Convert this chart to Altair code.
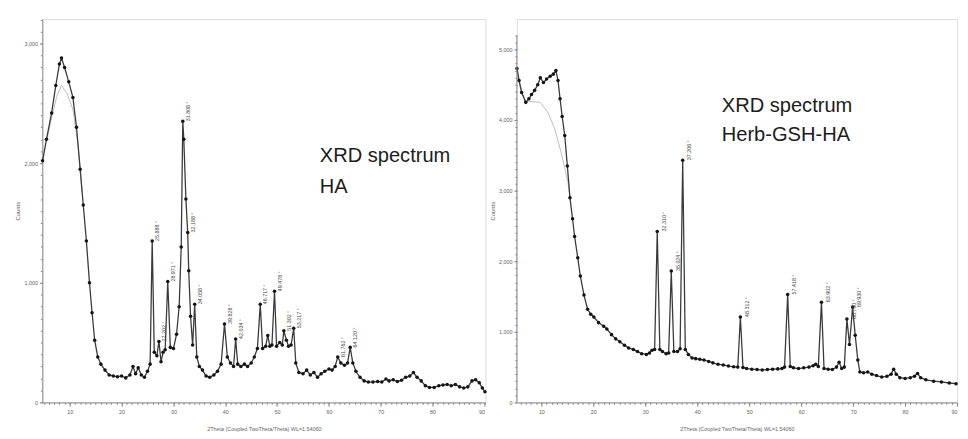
import altair as alt
import pandas as pd

# ---------------- HA spectrum (left) ----------------
ha_deg = [4.75, 5.5, 6.5, 7.3, 8.0, 8.4, 9.0, 9.8, 10.6, 11.3, 12.0, 12.6, 13.2, 13.8, 14.3, 14.8,
          15.4, 16.0, 16.8, 17.6, 18.4, 19.2, 20.0, 20.8, 21.6, 22.2, 22.7, 23.2, 23.8, 24.4, 25.0,
          25.5, 25.9, 26.3, 26.8, 27.2, 27.6, 28.0, 28.4, 28.9, 29.4, 30.0, 30.6, 31.1, 31.5, 31.8,
          32.0, 32.4, 32.75, 32.95, 33.3, 33.7, 34.1, 34.5, 35.0, 35.6, 36.3, 37.0, 37.8, 38.5,
          39.2, 39.85, 40.4, 41.0, 41.6, 42.0, 42.4, 43.0, 43.7, 44.3, 45.0, 45.6, 46.2, 46.75,
          47.2, 47.8, 48.2, 48.6, 49.0, 49.5, 49.9, 50.5, 51.0, 51.3, 51.8, 52.2, 52.7, 53.2, 53.6,
          54.2, 55.0, 55.7, 56.4, 57.1, 57.8, 58.5, 59.2, 60.0, 60.6, 61.2, 61.7, 62.3, 63.0, 63.6,
          64.1, 64.6, 65.2, 66.0, 66.8, 67.6, 68.5, 69.4, 70.2, 71.0, 71.6, 72.4, 73.2, 74.0, 74.8,
          75.6, 76.3, 77.0, 77.8, 78.6, 79.4, 80.3, 81.2, 82.0, 82.8, 83.6, 84.4, 85.2, 86.0, 86.8,
          87.6, 88.3, 89.0, 89.6, 90.1]
ha_cnt = [2020, 2200, 2420, 2650, 2830, 2880, 2800, 2680, 2550, 2300, 1950, 1650, 1350, 1000, 750, 520,
          380, 320, 270, 230, 220, 215, 220, 205, 230, 300, 240, 290, 230, 210, 260,
          320, 1350, 420, 390, 510, 340, 420, 440, 1010, 460, 450, 570, 800, 1300, 2350,
          2200, 1700, 1420, 1100, 720, 480, 820, 380, 300, 270, 220, 210, 230, 260,
          320, 655, 380, 330, 300, 530, 320, 300, 320, 300, 330, 380, 450, 820,
          450, 470, 560, 470, 480, 930, 470, 500, 480, 600, 520, 470, 480, 620, 330,
          250, 240, 270, 230, 250, 210, 240, 260, 280, 270, 300, 380, 330, 310, 330,
          460, 330, 260, 210, 180, 170, 170, 175, 170, 195, 180, 190, 175, 185, 210,
          220, 250, 210, 180, 140, 125, 125, 140, 145, 150, 140, 150, 130, 120, 130,
          180, 190, 165, 120, 90]
ha_bg_deg = [5.5, 6.5, 7.5, 8.4, 9.5, 10.6, 11.6, 12.4]
ha_bg_cnt = [2180, 2380, 2560, 2650, 2580, 2450, 2150, 1750]
ha_pk_deg = [25.9, 27.2, 28.9, 31.8, 32.75, 34.1, 39.85, 42.0, 46.75, 49.5, 51.3, 53.2, 61.7, 64.1]
ha_pk_cnt = [1350, 510, 1010, 2350, 1420, 820, 655, 530, 820, 930, 600, 620, 380, 460]
ha_pk_lbl = ["25.888 °", "27.202 °", "28.971 °", "31.808 °", "32.188 °", "34.058 °", "39.828 °",
             "42.034 °", "46.717 °", "49.478 °", "51.302 °", "53.217 °", "61.762 °", "64.120 °"]

# ---------------- Herb-GSH-HA spectrum (right) ----------------
hg_deg = [5.3, 5.7, 6.2, 7.0, 7.6, 8.1, 8.7, 9.3, 9.8, 10.4, 11.0, 11.7, 12.3, 12.8, 13.2, 13.6,
          14.0, 14.5, 15.0, 15.5, 16.0, 16.4, 17.0, 17.5, 18.2, 18.9, 19.5, 20.1, 21.0, 22.0, 22.6,
          23.5, 24.3, 25.1, 26.0, 26.8, 27.7, 28.5, 29.3, 30.2, 30.8, 31.3, 31.8, 32.3, 32.8, 33.3,
          34.0, 34.5, 35.0, 35.5, 36.2, 36.7, 37.2, 37.7, 38.3, 39.0, 39.7, 40.5, 41.3, 42.2, 43.0,
          44.0, 45.0, 46.0, 47.0, 47.8, 48.3, 48.8, 49.5, 50.5, 51.5, 52.5, 53.5, 54.5, 55.5, 56.3,
          56.8, 57.4, 57.9, 58.5, 59.5, 60.5, 61.5, 62.3, 62.8, 63.3, 63.9, 64.4, 65.2, 66.0, 66.8,
          67.3, 67.8, 68.3, 68.8, 69.3, 69.9, 70.4, 70.9, 71.3, 72.0, 72.8, 73.6, 74.5, 75.5, 76.5,
          77.3, 77.8, 78.3, 79.0, 80.0, 81.0, 81.8, 82.4, 83.0, 84.0, 85.5, 87.0, 88.5, 89.8]
hg_cnt = [4730, 4560, 4390, 4250, 4300, 4360, 4420, 4500, 4600, 4530, 4580, 4620, 4650, 4700, 4560, 4300,
          4050, 3780, 3350, 2900, 2600, 2350, 2050, 1790, 1520, 1320, 1250, 1210, 1130, 1080, 1040,
          960, 900, 860, 810, 770, 750, 720, 690, 680, 700, 740, 750, 2420, 750, 720,
          690, 700, 1860, 720, 720, 760, 3430, 750, 680, 630, 620, 610, 600, 580, 560,
          540, 530, 515, 505, 500, 1210, 495, 480, 470, 465, 460, 465, 470, 475, 480,
          500, 1530, 510, 490, 480, 490, 500, 520, 540, 510, 1420, 480, 470, 465, 500,
          570, 480, 500, 1180, 820, 1350, 950, 600, 430, 420, 430, 400, 380, 360, 370,
          400, 470, 400, 350, 340, 350, 370, 410, 350, 320, 300, 290, 275, 265]
hg_bg_deg = [5.3, 6.2, 7.0, 8.1, 9.8, 11.3, 12.6, 13.8, 15.1, 15.5]
hg_bg_cnt = [4730, 4390, 4270, 4260, 4250, 4100, 3870, 3540, 3125, 2900]
hg_pk_deg = [32.3, 35.0, 37.2, 48.3, 57.4, 63.9, 68.8, 69.9]
hg_pk_cnt = [2420, 1860, 3430, 1210, 1530, 1420, 1180, 1350]
hg_pk_lbl = ["32.310 °", "35.024 °", "37.206 °", "48.312 °", "57.418 °", "63.902 °", "68.790 °", "69.930 °"]

# axis tick values
x_major = [10, 20, 30, 40, 50, 60, 70, 80, 90]
x_minor = list(range(5, 91))

X_TITLE = "2Theta (Coupled TwoTheta/Theta) WL=1.54060"
FONT = "Liberation Sans"
AX = "#8a8a8a"
LBL = "#666666"


def x_major_axis():
    return alt.Axis(
        orient="bottom", values=x_major, format="d", tickSize=4,
        labelFontSize=5.5, labelColor=LBL, labelFont=FONT, labelPadding=3,
        labelOverlap=False, labelFlush=3, tickColor=AX, domainColor=AX, grid=False,
        title=X_TITLE, titleFontSize=5.5, titleFontWeight="normal", titleColor=LBL,
        titleFont=FONT, titlePadding=12)


def x_minor_axis():
    return alt.Axis(orient="bottom", values=x_minor, tickSize=2, labels=False, domain=False,
                    tickColor=AX, grid=False, title=None)


def y_major_axis(top, domain_line=True):
    return alt.Axis(
        orient="left", values=list(range(0, top + 1, 1000)), format=",d", tickSize=3,
        labelFontSize=5.5, labelColor=LBL, labelFont=FONT, labelPadding=2,
        labelOverlap=False, tickColor=AX, domainColor=AX, domain=domain_line, grid=False,
        title="Counts", titleFontSize=6, titleFontWeight="normal", titleColor=LBL,
        titleFont=FONT, titlePadding=3)


def y_minor_axis(top):
    return alt.Axis(orient="left", values=list(range(0, top + 1, 100)), tickSize=2, labels=False,
                    domain=False, tickColor=AX, grid=False, title=None)


def panel(deg, cnt, bg_deg, bg_cnt, pk_deg, pk_cnt, pk_lbl, xdom, ydom, ytop, width,
          t1, t2, tx, ty1, ty2, lx_off, axis_top=None):
    df = pd.DataFrame({"deg": deg, "cnt": cnt})
    bg = pd.DataFrame({"deg": bg_deg, "cnt": bg_cnt})
    pk = pd.DataFrame({"deg": pk_deg, "cnt": pk_cnt, "lbl": pk_lbl})
    xs = alt.Scale(domain=xdom, nice=False, zero=False)
    ys = alt.Scale(domain=ydom, nice=False)

    back = alt.Chart(bg).mark_line(color="#bdbdbd", strokeWidth=1).encode(
        x=alt.X("deg:Q", scale=xs, axis=x_minor_axis()),
        y=alt.Y("cnt:Q", scale=ys, axis=y_minor_axis(ytop)))
    line = alt.Chart(df).mark_line(color="#3a3a3a", strokeWidth=1.3).encode(
        x=alt.X("deg:Q", scale=xs, axis=x_major_axis()),
        y=alt.Y("cnt:Q", scale=ys, axis=y_major_axis(ytop, axis_top is None)))
    pts = alt.Chart(df).mark_circle(color="#151515", size=13, opacity=1).encode(
        x=alt.X("deg:Q", scale=xs, axis=None), y=alt.Y("cnt:Q", scale=ys, axis=None))
    labels = alt.Chart(pk).transform_calculate(lx=f"datum.deg + {lx_off}").mark_text(
        angle=270, align="left", baseline="middle", fontSize=5.5, font=FONT, color="#4a4a4a"
    ).encode(x=alt.X("lx:Q", scale=xs, axis=None), y=alt.Y("cnt:Q", scale=ys, axis=None),
             text="lbl:N")
    one = df.head(1)
    tt1 = alt.Chart(one).mark_text(align="left", baseline="alphabetic", fontSize=20.5, font=FONT,
                                   color="#1c1c1c", text=t1).encode(x=alt.value(tx), y=alt.value(ty1))
    tt2 = alt.Chart(one).mark_text(align="left", baseline="alphabetic", fontSize=20.5, font=FONT,
                                   color="#1c1c1c", text=t2).encode(x=alt.value(tx), y=alt.value(ty2))
    layers = [back, line, pts, labels, tt1, tt2]
    if axis_top is not None:
        rule = alt.Chart(one).mark_rule(color=AX, strokeWidth=1).encode(
            x=alt.value(0),
            y=alt.YDatum(0, scale=ys, axis=None),
            y2=alt.Y2Datum(axis_top))
        layers.append(rule)
    return alt.layer(*layers).resolve_axis(x="independent", y="independent").properties(
        width=width, height=391)


left = panel(ha_deg, ha_cnt, ha_bg_deg, ha_bg_cnt, ha_pk_deg, ha_pk_cnt, ha_pk_lbl,
             [4.7, 90.2], [0, 3205], 3200, 452,
             "XRD spectrum", "HA", 283, 146, 177, 1.0)
right = panel(hg_deg, hg_cnt, hg_bg_deg, hg_bg_cnt, hg_pk_deg, hg_pk_cnt, hg_pk_lbl,
              [5.28, 90.0], [0, 5430], 5200, 449,
              "XRD spectrum", "Herb-GSH-HA", 209, 95, 124, 1.3, axis_top=5200)

chart = alt.hconcat(left, right, spacing=0).properties(
    padding={"left": 6, "top": 6, "right": 0, "bottom": 0}
).configure_view(stroke=None).configure(background="white")

chart.save("out.html", embed_options={"renderer": "svg", "actions": False})
